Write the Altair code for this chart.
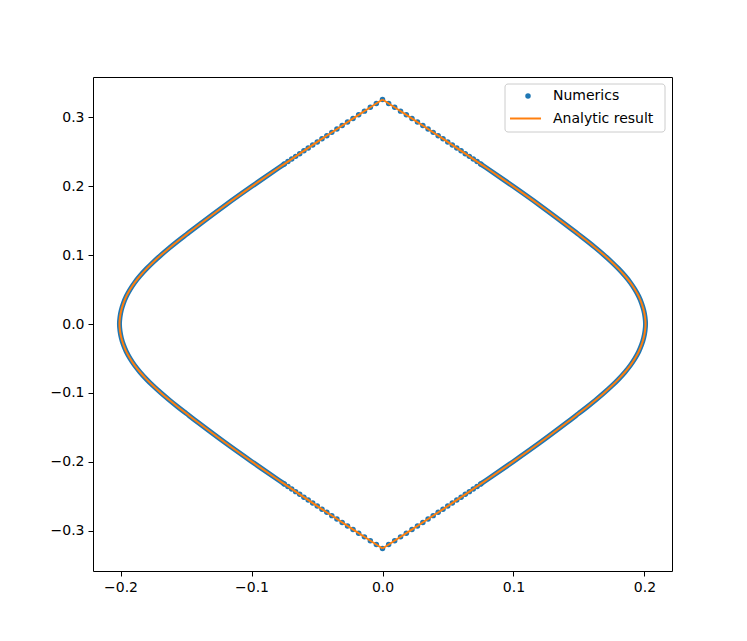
import altair as alt
import pandas as pd

# ---- Analytic result: right half (top cusp -> bottom cusp) and left half (top cusp -> bottom cusp)
analytic_x = [
    0.0000, 0.0200, 0.0400, 0.0600, 0.0750, 0.0800, 0.1000, 0.1200, 0.1400, 0.1496,
    0.1564, 0.1629, 0.1691, 0.1749, 0.1802, 0.1850, 0.1892, 0.1927, 0.1956, 0.1978,
    0.1994, 0.2004, 0.2008,
    0.2004, 0.1994, 0.1978, 0.1956, 0.1927, 0.1892, 0.1850, 0.1802, 0.1749, 0.1691,
    0.1629, 0.1564, 0.1496, 0.1400, 0.1200, 0.1000, 0.0800, 0.0750, 0.0600, 0.0400,
    0.0200, 0.0000,
    0.0000, -0.0200, -0.0400, -0.0600, -0.0750, -0.0800, -0.1000, -0.1200, -0.1400, -0.1496,
    -0.1564, -0.1629, -0.1691, -0.1749, -0.1802, -0.1850, -0.1892, -0.1927, -0.1956, -0.1978,
    -0.1994, -0.2004, -0.2008,
    -0.2004, -0.1994, -0.1978, -0.1956, -0.1927, -0.1892, -0.1850, -0.1802, -0.1749, -0.1691,
    -0.1629, -0.1564, -0.1496, -0.1400, -0.1200, -0.1000, -0.0800, -0.0750, -0.0600, -0.0400,
    -0.0200, 0.0000,
]
analytic_y = [
    0.3256, 0.3011, 0.2763, 0.2511, 0.2319, 0.2255, 0.1993, 0.1723, 0.1440, 0.1300,
    0.1200, 0.1100, 0.1000, 0.0900, 0.0800, 0.0700, 0.0600, 0.0500, 0.0400, 0.0300,
    0.0200, 0.0100, 0.0000,
    -0.0100, -0.0200, -0.0300, -0.0400, -0.0500, -0.0600, -0.0700, -0.0800, -0.0900, -0.1000,
    -0.1100, -0.1200, -0.1300, -0.1440, -0.1723, -0.1993, -0.2255, -0.2319, -0.2511, -0.2763,
    -0.3011, -0.3256,
    0.3256, 0.3011, 0.2763, 0.2511, 0.2319, 0.2255, 0.1993, 0.1723, 0.1440, 0.1300,
    0.1200, 0.1100, 0.1000, 0.0900, 0.0800, 0.0700, 0.0600, 0.0500, 0.0400, 0.0300,
    0.0200, 0.0100, 0.0000,
    -0.0100, -0.0200, -0.0300, -0.0400, -0.0500, -0.0600, -0.0700, -0.0800, -0.0900, -0.1000,
    -0.1100, -0.1200, -0.1300, -0.1440, -0.1723, -0.1993, -0.2255, -0.2319, -0.2511, -0.2763,
    -0.3011, -0.3256,
]
analytic_half = ["right"] * 45 + ["left"] * 45

# ---- Numerics, dense part (points so close they form a band): right arc and left arc
band_x = [
    0.0750, 0.0800, 0.1000, 0.1200, 0.1400, 0.1496, 0.1564, 0.1629, 0.1691, 0.1749,
    0.1802, 0.1850, 0.1892, 0.1927, 0.1956, 0.1978, 0.1994, 0.2004, 0.2008,
    0.2004, 0.1994, 0.1978, 0.1956, 0.1927, 0.1892, 0.1850, 0.1802, 0.1749, 0.1691,
    0.1629, 0.1564, 0.1496, 0.1400, 0.1200, 0.1000, 0.0800, 0.0750,
    -0.0750, -0.0800, -0.1000, -0.1200, -0.1400, -0.1496, -0.1564, -0.1629, -0.1691, -0.1749,
    -0.1802, -0.1850, -0.1892, -0.1927, -0.1956, -0.1978, -0.1994, -0.2004, -0.2008,
    -0.2004, -0.1994, -0.1978, -0.1956, -0.1927, -0.1892, -0.1850, -0.1802, -0.1749, -0.1691,
    -0.1629, -0.1564, -0.1496, -0.1400, -0.1200, -0.1000, -0.0800, -0.0750,
]
band_y = [
    0.2319, 0.2255, 0.1993, 0.1723, 0.1440, 0.1300, 0.1200, 0.1100, 0.1000, 0.0900,
    0.0800, 0.0700, 0.0600, 0.0500, 0.0400, 0.0300, 0.0200, 0.0100, 0.0000,
    -0.0100, -0.0200, -0.0300, -0.0400, -0.0500, -0.0600, -0.0700, -0.0800, -0.0900, -0.1000,
    -0.1100, -0.1200, -0.1300, -0.1440, -0.1723, -0.1993, -0.2255, -0.2319,
    0.2319, 0.2255, 0.1993, 0.1723, 0.1440, 0.1300, 0.1200, 0.1100, 0.1000, 0.0900,
    0.0800, 0.0700, 0.0600, 0.0500, 0.0400, 0.0300, 0.0200, 0.0100, 0.0000,
    -0.0100, -0.0200, -0.0300, -0.0400, -0.0500, -0.0600, -0.0700, -0.0800, -0.0900, -0.1000,
    -0.1100, -0.1200, -0.1300, -0.1440, -0.1723, -0.1993, -0.2255, -0.2319,
]
band_arc = ["right"] * 37 + ["left"] * 37

# ---- Numerics, separate dots visible near the two cusps
dots_x = [
    0.0000, 0.0047, 0.0093, 0.0138, 0.0182, 0.0225, 0.0267, 0.0308, 0.0348, 0.0387,
    0.0425, 0.0462, 0.0498, 0.0533, 0.0567, 0.0600, 0.0632, 0.0663, 0.0693, 0.0722, 0.0750,
    -0.0047, -0.0093, -0.0138, -0.0182, -0.0225, -0.0267, -0.0308, -0.0348, -0.0387,
    -0.0425, -0.0462, -0.0498, -0.0533, -0.0567, -0.0600, -0.0632, -0.0663, -0.0693, -0.0722, -0.0750,
    0.0000, 0.0047, 0.0093, 0.0138, 0.0182, 0.0225, 0.0267, 0.0308, 0.0348, 0.0387,
    0.0425, 0.0462, 0.0498, 0.0533, 0.0567, 0.0600, 0.0632, 0.0663, 0.0693, 0.0722, 0.0750,
    -0.0047, -0.0093, -0.0138, -0.0182, -0.0225, -0.0267, -0.0308, -0.0348, -0.0387,
    -0.0425, -0.0462, -0.0498, -0.0533, -0.0567, -0.0600, -0.0632, -0.0663, -0.0693, -0.0722, -0.0750,
]
dots_y = [
    0.3256, 0.3198, 0.3142, 0.3087, 0.3033, 0.2980, 0.2928, 0.2877, 0.2827, 0.2779,
    0.2731, 0.2685, 0.2640, 0.2596, 0.2553, 0.2511, 0.2470, 0.2431, 0.2392, 0.2355, 0.2319,
    0.3198, 0.3142, 0.3087, 0.3033, 0.2980, 0.2928, 0.2877, 0.2827, 0.2779,
    0.2731, 0.2685, 0.2640, 0.2596, 0.2553, 0.2511, 0.2470, 0.2431, 0.2392, 0.2355, 0.2319,
    -0.3256, -0.3198, -0.3142, -0.3087, -0.3033, -0.2980, -0.2928, -0.2877, -0.2827, -0.2779,
    -0.2731, -0.2685, -0.2640, -0.2596, -0.2553, -0.2511, -0.2470, -0.2431, -0.2392, -0.2355, -0.2319,
    -0.3198, -0.3142, -0.3087, -0.3033, -0.2980, -0.2928, -0.2877, -0.2827, -0.2779,
    -0.2731, -0.2685, -0.2640, -0.2596, -0.2553, -0.2511, -0.2470, -0.2431, -0.2392, -0.2355, -0.2319,
]

x_ticks = [-0.2, -0.1, 0.0, 0.1, 0.2]
y_ticks = [-0.3, -0.2, -0.1, 0.0, 0.1, 0.2, 0.3]
legend_labels = ["Numerics", "Analytic result"]

BLUE = "#1f77b4"
ORANGE = "#ff7f0e"
FONT = "DejaVu Sans"
FS = 14
W, H = 579, 494
DOT = 30

analytic_df = pd.DataFrame({"x": analytic_x, "y": analytic_y, "half": analytic_half,
                            "i": list(range(len(analytic_x)))})
band_df = pd.DataFrame({"x": band_x, "y": band_y, "arc": band_arc, "i": list(range(len(band_x)))})
dots_df = pd.DataFrame({"x": dots_x, "y": dots_y})

xs = alt.Scale(domain=[-0.221, 0.221], nice=False, zero=False)
ys = alt.Scale(domain=[-0.3582, 0.3582], nice=False, zero=False)
xaxis = alt.Axis(values=x_ticks, format=".1f", title=None, grid=False, domain=False,
                 tickColor="black", tickSize=5, tickWidth=1, labelFontSize=FS,
                 labelFont=FONT, labelColor="black", labelPadding=4)
yaxis = alt.Axis(values=y_ticks, format=".1f", title=None, grid=False, domain=False,
                 tickColor="black", tickSize=5, tickWidth=1, labelFontSize=FS,
                 labelFont=FONT, labelColor="black", labelPadding=4)

band = alt.Chart(band_df).mark_line(color=BLUE, strokeWidth=5, strokeCap="round",
                                    interpolate="catmull-rom").encode(
    x=alt.X("x:Q", scale=xs, axis=xaxis),
    y=alt.Y("y:Q", scale=ys, axis=yaxis),
    detail="arc:N",
    order="i:Q",
)
dots = alt.Chart(dots_df).mark_circle(color=BLUE, size=DOT, opacity=1).encode(
    x=alt.X("x:Q", scale=xs),
    y=alt.Y("y:Q", scale=ys),
)
line = alt.Chart(analytic_df).mark_line(color=ORANGE, strokeWidth=2,
                                        interpolate="catmull-rom").encode(
    x=alt.X("x:Q", scale=xs),
    y=alt.Y("y:Q", scale=ys),
    detail="half:N",
    order="i:Q",
)

one = pd.DataFrame({"k": [0]})
leg_box = alt.Chart(one).mark_rect(fill="white", fillOpacity=0.8, stroke="#cccccc",
                                   strokeWidth=1, cornerRadius=3).encode(
    x=alt.value(412), x2=alt.value(572), y=alt.value(7), y2=alt.value(55))
leg_dot = alt.Chart(one).mark_circle(color=BLUE, size=DOT, opacity=1).encode(
    x=alt.value(435), y=alt.value(19))
leg_line = alt.Chart(one).mark_rule(color=ORANGE, strokeWidth=2).encode(
    x=alt.value(417), x2=alt.value(448), y=alt.value(41.5))
leg_t1 = alt.Chart(one).mark_text(align="left", baseline="middle", font=FONT, fontSize=FS,
                                  color="black").encode(
    x=alt.value(460), y=alt.value(19), text=alt.value(legend_labels[0]))
leg_t2 = alt.Chart(one).mark_text(align="left", baseline="middle", font=FONT, fontSize=FS,
                                  color="black").encode(
    x=alt.value(460), y=alt.value(41.5), text=alt.value(legend_labels[1]))

chart = alt.layer(band, dots, line, leg_box, leg_dot, leg_line, leg_t1, leg_t2).properties(
    width=W, height=H,
    autosize="none",
    background="white",
    padding={"left": 85, "top": 69, "right": 60, "bottom": 60},
).configure_view(stroke="black", strokeWidth=1, strokeOpacity=1)

chart.save("out.html", embed_options={"renderer": "svg", "actions": False})
